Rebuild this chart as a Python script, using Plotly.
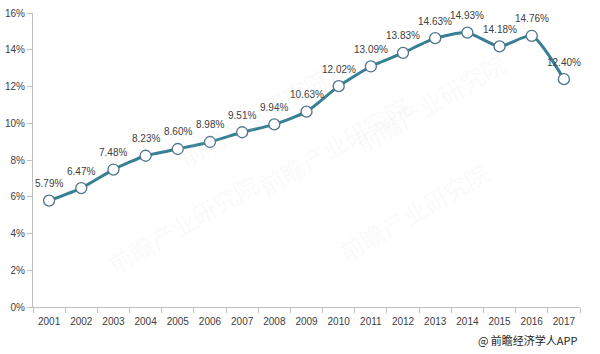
import plotly.graph_objects as go

years = [str(y) for y in range(2001, 2018)]
values = [5.79, 6.47, 7.48, 8.23, 8.60, 8.98, 9.51, 9.94, 10.63, 12.02, 13.09, 13.83, 14.63, 14.93, 14.18, 14.76, 12.40]
labels = [f"{v:.2f}%" for v in values]
y_ticks = [0, 2, 4, 6, 8, 10, 12, 14, 16]
y_tick_text = [f"{t}%" for t in y_ticks]

fig = go.Figure()
fig.add_trace(go.Scatter(
    x=years, y=values, mode="lines+markers",
    line=dict(color="#367f94", width=3, shape="spline", smoothing=0.6),
    marker=dict(size=11, color="white", line=dict(color="#4f7488", width=1.3)),
    cliponaxis=False, showlegend=False,
))

for i, (v, lab) in enumerate(zip(values, labels)):
    fig.add_annotation(x=i, y=v, text=lab, showarrow=False, yshift=17,
                       font=dict(family="Liberation Sans, Arial", size=10, color="#404040"))

# watermarks
wm = [(0.25, 0.85), (0.55, 0.55), (0.88, 0.9), (0.12, 0.08), (0.85, 0.12)]
for (wx, wy) in wm:
    fig.add_annotation(x=wx, y=wy, xref="paper", yref="paper", text="前瞻产业研究院",
                       showarrow=False, textangle=-30,
                       font=dict(family="Noto Sans CJK SC", size=24, color="rgba(215,215,215,0.15)"))

fig.add_annotation(x=1.0, y=-0.113, xref="paper", yref="paper", xanchor="right", yanchor="middle",
                   text="@ 前瞻经济学人APP", showarrow=False,
                   font=dict(family="Noto Sans CJK SC", size=11, color="#222222"))

fig.update_xaxes(
    type="category", range=[-0.5, 16.5], showline=True, linecolor="#bfbfbf", linewidth=1,
    ticks="outside", tickcolor="#bfbfbf", ticklen=5, tickson="boundaries",
    tickangle=0, automargin=False, ticklabelstandoff=5,
    showgrid=False, tickfont=dict(family="Liberation Sans, Arial", size=10, color="#404040"),
)
fig.update_yaxes(
    range=[0, 16], tickvals=y_ticks, ticktext=y_tick_text, automargin=False,
    showline=True, linecolor="#bfbfbf", linewidth=1,
    ticks="outside", tickcolor="#bfbfbf", ticklen=5, showgrid=False, zeroline=False,
    tickfont=dict(family="Liberation Sans, Arial", size=10, color="#404040"),
)
fig.update_layout(
    width=600, height=354, margin=dict(l=33, r=20, t=13, b=47, autoexpand=False),
    paper_bgcolor="white", plot_bgcolor="white",
)
fig.write_html("out.html")
